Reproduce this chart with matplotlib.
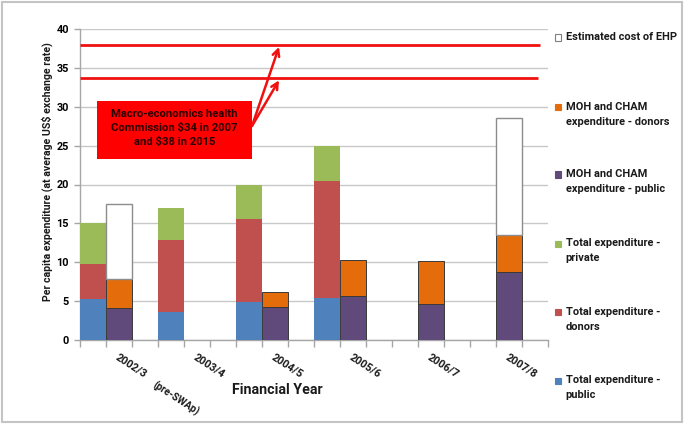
import matplotlib
matplotlib.use('Agg')
import matplotlib.pyplot as plt
from matplotlib.patches import Rectangle
import numpy as np

# ---------------- data ----------------
years = ['2002/3', '2003/4', '2004/5', '2005/6', '2006/7', '2007/8']
total_public = [5.3, 3.6, 4.9, 5.4, None, None]
total_donors = [4.5, 9.3, 10.7, 15.1, None, None]
total_private = [5.2, 4.1, 4.4, 4.5, None, None]
moh_public = [4.1, None, 4.3, 5.7, 4.6, 8.8]
moh_donors = [3.8, None, 1.9, 4.6, 5.5, 4.7]
ehp_cost = [9.6, None, None, None, None, 15.1]
targets = [38.0, 33.7]
target_ends = [17.7, 17.6]   # x extent of the target lines (slot units)
yticks = [0, 5, 10, 15, 20, 25, 30, 35, 40]

legend_labels = [
    ['Estimated cost of EHP'],
    ['MOH and CHAM', 'expenditure - donors'],
    ['MOH and CHAM', 'expenditure - public'],
    ['Total expenditure -', 'private'],
    ['Total expenditure -', 'donors'],
    ['Total expenditure -', 'public'],
]

# ---------------- style ----------------
C_PUB = '#4F81BD'
C_DON = '#C0504D'
C_PRI = '#9BBB59'
C_MPUB = '#604A7B'
C_MDON = '#E46C0A'
C_RED = '#F01010'
legend_colors = [('white', '#7F7F7F'), (C_MDON, C_MDON), (C_MPUB, C_MPUB),
                 (C_PRI, C_PRI), (C_DON, C_DON), (C_PUB, C_PUB)]

FONT = 'Roboto'
plt.rcParams['font.family'] = [FONT, 'DejaVu Sans']
plt.rcParams['font.weight'] = 'bold'

W, H = 685, 424
fig = plt.figure(figsize=(W / 100, H / 100), dpi=100)


def fx(x):
    return x / W


def fy(y):
    return 1 - y / H


ax = fig.add_axes([fx(80), fy(340), fx(548) - fx(80), fy(29) - fy(340)])
ax.set_xlim(0, 18)
ax.set_ylim(0, 40)

# gridlines
ax.set_yticks(yticks)
ax.yaxis.grid(True, color='#C8C8C8', linewidth=1.0)
ax.set_axisbelow(True)


def vals(arr):
    return np.array([np.nan if v is None else v for v in arr], dtype=float)


tp, td, tpr = vals(total_public), vals(total_donors), vals(total_private)
mp, md, ehp = vals(moh_public), vals(moh_donors), vals(ehp_cost)
n = len(years)
x_total = np.arange(n) * 3
x_moh = np.arange(n) * 3 + 1


def draw(xs, h, b, color, ec=None, lw=0):
    m = ~np.isnan(h)
    ax.bar(xs[m], h[m], bottom=np.nan_to_num(b)[m], width=1.0, align='edge',
           color=color, edgecolor=ec if ec else color, linewidth=lw, zorder=3)


draw(x_total, tp, np.zeros(n), C_PUB)
draw(x_total, td, tp, C_DON)
draw(x_total, tpr, tp + td, C_PRI)
draw(x_moh, mp, np.zeros(n), C_MPUB, '#3a3a3a', 0.7)
draw(x_moh, md, mp, C_MDON, '#3a3a3a', 0.7)
draw(x_moh, ehp, np.nan_to_num(mp) + np.nan_to_num(md), 'white', '#8C8C8C', 1.0)

# target lines
for t, e in zip(targets, target_ends):
    ax.plot([0, e], [t, t], color=C_RED, linewidth=2.0, zorder=4,
            solid_capstyle='butt', clip_on=False)

# annotation box
ax.add_patch(Rectangle(((97 - 80) / 26, (340 - 159) / 7.775),
                       (252 - 97) / 26, (159 - 101) / 7.775,
                       facecolor='#FF0000', edgecolor='none', zorder=5))
ax.text((174.5 - 80) / 26, (340 - 128) / 7.775,
        'Macro-economics health\nCommission \\$34 in 2007\nand \\$38 in 2015',
        ha='center', va='center', fontsize=8.1, fontweight='bold',
        color='#2a0000', linespacing=1.5, zorder=6)
start = ((252 - 80) / 26, (340 - 126) / 7.775)
for t in targets:
    ax.annotate('', xy=((279 - 80) / 26, t - 0.3), xytext=start,
                arrowprops=dict(arrowstyle='->', color=C_RED, lw=1.8,
                                mutation_scale=12, shrinkA=0, shrinkB=0),
                zorder=6)

# axes styling
for s in ['top', 'right']:
    ax.spines[s].set_visible(False)
for s in ['left', 'bottom']:
    ax.spines[s].set_color('#A6A6A6')
    ax.spines[s].set_linewidth(1.0)
ax.tick_params(axis='y', length=4, width=1, color='#A6A6A6', pad=4,
               labelsize=7.8)
for lab in ax.get_yticklabels():
    lab.set_fontweight('bold')
ax.set_xticks(np.arange(0, 19), minor=False)
ax.set_xticklabels([])
ax.tick_params(axis='x', length=5, width=1, color='#A6A6A6')

for i, y in enumerate(years):
    ax.text(x_moh[i] + 0.5, -0.038, y, transform=ax.get_xaxis_transform(),
            rotation=-33, rotation_mode='anchor', ha='left', va='top',
            fontsize=7.8, fontweight='bold', color='#1a1a1a')
ax.text((157 - 80) / 26, -0.128, '(pre-SWAp)', transform=ax.get_xaxis_transform(),
        rotation=-33, rotation_mode='anchor', ha='left', va='top',
        fontsize=7.2, fontweight='bold', color='#1a1a1a')

fig.text(fx(277.5), fy(390), 'Financial Year', ha='center', va='center',
         fontsize=10.2, fontweight='bold', color='#1a1a1a')
fig.text(fx(47), fy(172), 'Per capita expenditure (at average US\\$ exchange rate)',
         rotation=90, ha='center', va='center', fontsize=7.6,
         fontweight='bold', color='#1a1a1a')

# legend (manual)
centers = [37, 106.7, 174, 243.3, 311.7, 380]
for (fc, ec), lines, cy in zip(legend_colors, legend_labels, centers):
    fig.patches.append(Rectangle((fx(555), fy(cy + 3.5)), 6 / W, 6 / H,
                                 facecolor=fc, edgecolor=ec, linewidth=0.8,
                                 transform=fig.transFigure, figure=fig))
    for k, line in enumerate(lines):
        fig.text(fx(565.5), fy(cy + 15 * k), line, ha='left', va='center',
                 fontsize=7.9, fontweight='bold', color='#1a1a1a')

# outer frame
fig.patches.append(Rectangle((fx(1.5), fy(421.5)), 680 / W, 420 / H,
                             facecolor='none', edgecolor='#C4C4C4',
                             linewidth=1.5, transform=fig.transFigure,
                             figure=fig))

fig.savefig('out.png', dpi=100)
